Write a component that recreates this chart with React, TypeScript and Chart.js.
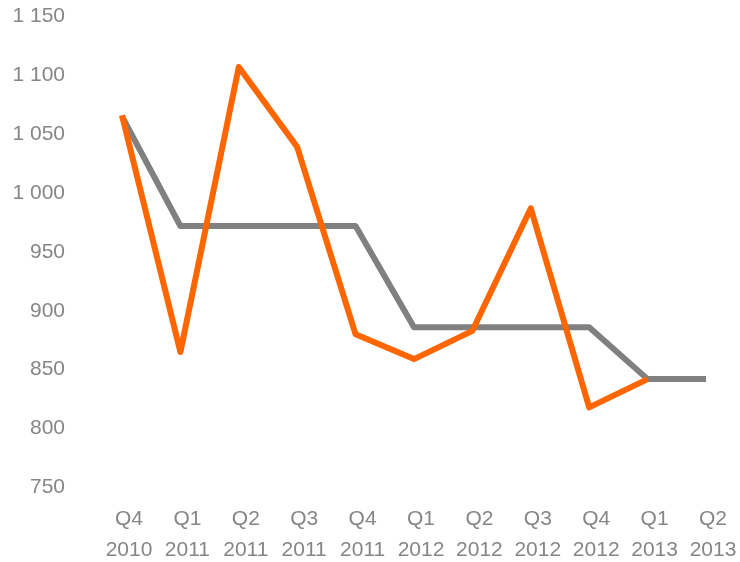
import React, { useEffect, useRef } from "react";
import { Chart, registerables } from "chart.js";

Chart.register(...registerables);

const categories: string[][] = [
  ["Q4", "2010"],
  ["Q1", "2011"],
  ["Q2", "2011"],
  ["Q3", "2011"],
  ["Q4", "2011"],
  ["Q1", "2012"],
  ["Q2", "2012"],
  ["Q3", "2012"],
  ["Q4", "2012"],
  ["Q1", "2013"],
  ["Q2", "2013"],
];

const orangeSeries: (number | null)[] = [1066, 865, 1107, 1039, 880, 859, 883, 987, 818, 842, null];
const graySeries: number[] = [1065, 972, 972, 972, 972, 886, 886, 886, 886, 842, 842];

const yMin = 750;
const yMax = 1150;
const yStep = 50;

const formatThousands = (v: number) => {
  const s = Math.round(v).toString();
  return s.replace(/\B(?=(\d{3})+(?!\d))/g, " ");
};

export default function App() {
  const canvasRef = useRef<HTMLCanvasElement | null>(null);

  useEffect(() => {
    document.body.style.margin = "0";
    const canvas = canvasRef.current;
    if (!canvas) return;
    const textColor = "#868686";
    const chart = new Chart(canvas, {
      type: "line",
      data: {
        labels: categories,
        datasets: [
          {
            label: "Series 1",
            data: orangeSeries,
            borderColor: "#FF6600",
            backgroundColor: "#FF6600",
            borderWidth: 6,
            borderJoinStyle: "round",
            pointRadius: 0,
            tension: 0,
            spanGaps: false,
          },
          {
            label: "Series 2",
            data: graySeries,
            borderColor: "#808080",
            backgroundColor: "#808080",
            borderWidth: 6,
            borderJoinStyle: "round",
            pointRadius: 0,
            tension: 0,
          },
        ],
      },
      options: {
        animation: false,
        responsive: false,
        maintainAspectRatio: false,
        layout: { padding: { top: 16.3, right: 34, bottom: 0, left: 0 } },
        plugins: {
          legend: { display: false },
          tooltip: { enabled: false },
        },
        scales: {
          x: {
            type: "category",
            offset: false,
            grid: { display: false, drawTicks: false },
            border: { display: false },
            ticks: {
              color: textColor,
              font: { family: "Liberation Sans", size: 21, lineHeight: 1.48 },
              padding: 16,
              maxRotation: 0,
              autoSkip: false,
              labelOffset: 7,
            },
            afterFit: (scale: any) => {
              scale.height = 74.5;
              scale.paddingLeft = 0;
              scale.paddingRight = 0;
            },
          },
          y: {
            min: yMin,
            max: yMax,
            grid: { display: false, drawTicks: false },
            border: { display: false },
            ticks: {
              stepSize: yStep,
              color: textColor,
              font: { family: "Liberation Sans", size: 21 },
              padding: 57,
              callback: (v: any) => formatThousands(Number(v)),
            },
            afterFit: (scale: any) => {
              scale.width = 122;
              scale.paddingTop = 0;
              scale.paddingBottom = 0;
            },
          },
        },
      },
    });
    return () => chart.destroy();
  }, []);

  return (
    <div style={{ position: "absolute", left: 0, top: 0, width: 740, height: 562, background: "#fff" }}>
      <canvas ref={canvasRef} width={740} height={562} style={{ width: 740, height: 562, display: "block" }} />
    </div>
  );
}
